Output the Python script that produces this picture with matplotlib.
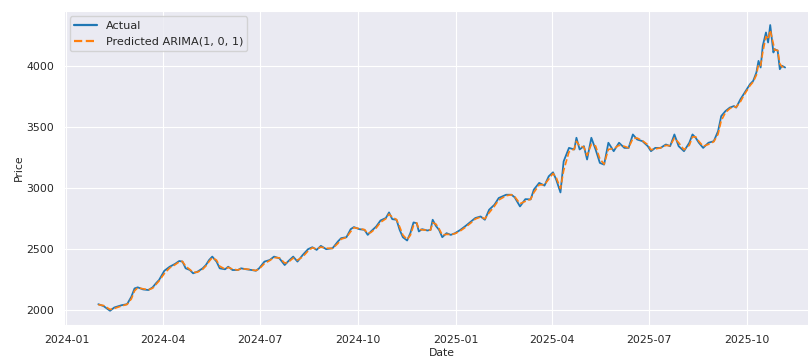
import numpy as np
import pandas as pd
import seaborn as sns
import matplotlib
matplotlib.use('Agg')
from matplotlib import pyplot as plt
import matplotlib.dates as mdates
from matplotlib.ticker import MultipleLocator

# Gold price test window with one-step ARIMA(1, 0, 1) forecasts
dates = ['2024-01-31','2024-02-05','2024-02-11','2024-02-15','2024-02-22','2024-02-27','2024-03-02','2024-03-05',
         '2024-03-08','2024-03-13','2024-03-18','2024-03-22','2024-03-25','2024-03-28','2024-04-02','2024-04-07',
         '2024-04-12','2024-04-16','2024-04-19','2024-04-22','2024-04-26','2024-04-29','2024-05-03','2024-05-08',
         '2024-05-11','2024-05-14','2024-05-17','2024-05-21','2024-05-24','2024-05-29','2024-06-01','2024-06-05',
         '2024-06-10','2024-06-13','2024-06-18','2024-06-23','2024-06-27','2024-06-30','2024-07-05','2024-07-10',
         '2024-07-14','2024-07-19','2024-07-24','2024-07-27','2024-08-01','2024-08-05','2024-08-10','2024-08-15',
         '2024-08-19','2024-08-23','2024-08-27','2024-09-01','2024-09-07','2024-09-12','2024-09-15','2024-09-20',
         '2024-09-24','2024-09-27','2024-10-02','2024-10-07','2024-10-10','2024-10-13','2024-10-18','2024-10-22',
         '2024-10-27','2024-10-30','2024-11-02','2024-11-06','2024-11-09','2024-11-12','2024-11-16','2024-11-19',
         '2024-11-22','2024-11-25','2024-11-27','2024-11-30','2024-12-05','2024-12-08','2024-12-10','2024-12-13',
         '2024-12-16','2024-12-19','2024-12-23','2024-12-27','2024-12-31','2025-01-05','2025-01-10','2025-01-15',
         '2025-01-19','2025-01-24','2025-01-28','2025-02-01','2025-02-06','2025-02-10','2025-02-17','2025-02-22',
         '2025-02-25','2025-03-02','2025-03-07','2025-03-12','2025-03-15','2025-03-20','2025-03-25','2025-03-29',
         '2025-04-02','2025-04-05','2025-04-09','2025-04-12','2025-04-17','2025-04-22','2025-04-24','2025-04-27',
         '2025-05-01','2025-05-04','2025-05-08','2025-05-12','2025-05-16','2025-05-20','2025-05-24','2025-05-29',
         '2025-06-03','2025-06-08','2025-06-12','2025-06-16','2025-06-20','2025-06-25','2025-06-30','2025-07-03',
         '2025-07-07','2025-07-12','2025-07-17','2025-07-21','2025-07-25','2025-07-29','2025-08-03','2025-08-08',
         '2025-08-11','2025-08-14','2025-08-17','2025-08-21','2025-08-26','2025-08-31','2025-09-04','2025-09-07',
         '2025-09-11','2025-09-15','2025-09-19','2025-09-21','2025-09-25','2025-09-28','2025-10-01','2025-10-04',
         '2025-10-07','2025-10-10','2025-10-12','2025-10-14','2025-10-16','2025-10-19','2025-10-21','2025-10-23',
         '2025-10-26','2025-10-27','2025-10-30','2025-11-01','2025-11-03','2025-11-06']

actual = [2049, 2033, 1995, 2022, 2041, 2049, 2110, 2178, 2187, 2170, 2165, 2187, 2219, 2247, 2323, 2356,
          2379, 2403, 2398, 2343, 2329, 2302, 2315, 2343, 2370, 2411, 2439, 2398, 2343, 2335, 2356, 2329,
          2329, 2343, 2335, 2329, 2323, 2343, 2398, 2411, 2439, 2425, 2370, 2398, 2439, 2398, 2453, 2500,
          2516, 2494, 2527, 2500, 2508, 2563, 2590, 2598, 2664, 2681, 2664, 2658, 2617, 2645, 2686, 2735,
          2755, 2801, 2746, 2741, 2658, 2598, 2571, 2631, 2719, 2713, 2645, 2664, 2653, 2658, 2741, 2691,
          2658, 2598, 2631, 2617, 2631, 2658, 2691, 2727, 2755, 2768, 2741, 2823, 2864, 2919, 2946, 2946,
          2925, 2850, 2910, 2908, 2988, 3043, 3021, 3097, 3130, 3070, 2965, 3220, 3330, 3317, 3413, 3317,
          3344, 3235, 3413, 3317, 3207, 3193, 3372, 3303, 3372, 3330, 3330, 3440, 3399, 3385, 3344, 3303,
          3330, 3330, 3358, 3344, 3440, 3344, 3303, 3372, 3440, 3413, 3372, 3330, 3372, 3385, 3467, 3591,
          3632, 3660, 3673, 3660, 3728, 3769, 3811, 3852, 3879, 3948, 4043, 3989, 4167, 4276, 4194, 4337,
          4112, 4140, 4126, 3975, 4003, 3989]

predicted = [2045, 2038, 2006, 2014, 2035, 2047, 2092, 2158, 2184, 2175, 2167, 2180, 2209, 2239, 2300, 2346,
             2372, 2396, 2400, 2360, 2333, 2310, 2311, 2335, 2362, 2399, 2431, 2410, 2360, 2337, 2350, 2337,
             2329, 2339, 2337, 2331, 2325, 2337, 2382, 2407, 2431, 2429, 2387, 2390, 2427, 2410, 2437, 2486,
             2511, 2501, 2517, 2508, 2506, 2547, 2582, 2596, 2644, 2676, 2669, 2660, 2629, 2637, 2674, 2720,
             2749, 2787, 2763, 2743, 2683, 2616, 2579, 2613, 2693, 2715, 2665, 2658, 2656, 2657, 2716, 2706,
             2668, 2616, 2621, 2621, 2627, 2650, 2681, 2716, 2747, 2764, 2749, 2798, 2852, 2903, 2938, 2946,
             2931, 2873, 2892, 2909, 2964, 3027, 3028, 3074, 3120, 3088, 2997, 3144, 3297, 3321, 3384, 3346,
             3336, 3268, 3360, 3346, 3240, 3197, 3318, 3324, 3351, 3343, 3330, 3407, 3411, 3389, 3356, 3315,
             3322, 3330, 3350, 3348, 3411, 3373, 3315, 3351, 3420, 3421, 3384, 3343, 3359, 3381, 3442, 3554,
             3620, 3652, 3669, 3664, 3708, 3757, 3798, 3840, 3871, 3927, 4015, 4005, 4114, 4243, 4219, 4294,
             4180, 4132, 4130, 4020, 3995, 3993]

model_order = (1, 0, 1)

sns.set_style('darkgrid')
plt.rcParams['font.family'] = ['DejaVu Sans']

x = pd.to_datetime(dates)

fig = plt.figure(figsize=(8.08, 3.58), dpi=100)
ax = fig.add_axes([0.0792, 0.092, 0.935, 0.878])

ax.plot(x, actual, color='#1f77b4', linewidth=1.3, label='Actual')
ax.plot(x, predicted, color='#ff7f0e', linewidth=1.2, linestyle='--',
        label='Predicted ARIMA' + str(model_order))

ax.xaxis.set_major_locator(mdates.MonthLocator(bymonth=[1, 4, 7, 10]))
ax.xaxis.set_major_formatter(mdates.DateFormatter('%Y-%m'))
ax.yaxis.set_major_locator(MultipleLocator(500))
ax.tick_params(labelsize=7.8)

ax.set_xlabel('Date', fontsize=7.8, labelpad=2)
ax.set_ylabel('Price', fontsize=7.8, labelpad=2)
leg = ax.legend(loc='upper left', fontsize=8.1)
for line in leg.get_lines():
    line.set_linewidth(1.6)

fig.savefig('out.png', dpi=100)
